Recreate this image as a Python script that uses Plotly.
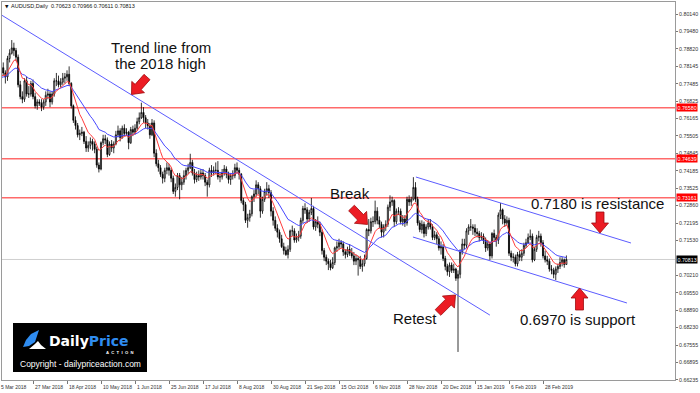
import numpy as np
import pandas as pd
import plotly.graph_objects as go

# ---------------- DATA (prices in pips, /10000) ----------------
first_open_pips = 7755
closes_pips = [
    7770, 7810, 7790, 7775, 7845, 7865, 7885, 7875, 7850, 7745,
    7700, 7690, 7760, 7710, 7710, 7750, 7700, 7665, 7680, 7675,
    7660, 7680, 7705, 7710, 7680, 7710, 7760, 7760, 7745, 7755,
    7770, 7775, 7785, 7750, 7665, 7610, 7590, 7555, 7560, 7565,
    7530, 7505, 7515, 7530, 7520, 7500, 7440, 7425, 7525, 7540,
    7535, 7480, 7520, 7505, 7520, 7555, 7570, 7545, 7580, 7560,
    7565, 7525, 7575, 7565, 7580, 7605, 7620, 7640, 7620, 7600,
    7590, 7555, 7600, 7485, 7445, 7430, 7405, 7390, 7420, 7430,
    7420, 7390, 7340, 7355, 7400, 7365, 7375, 7400, 7420, 7430,
    7450, 7410, 7385, 7400, 7395, 7410, 7400, 7375, 7365, 7420,
    7410, 7420, 7420, 7395, 7395, 7410, 7425, 7405, 7385, 7400,
    7400, 7430, 7420, 7405, 7305, 7290, 7230, 7240, 7255, 7320,
    7330, 7365, 7350, 7265, 7310, 7340, 7350, 7335, 7265, 7230,
    7200, 7185, 7160, 7130, 7115, 7100, 7120, 7190, 7190, 7155,
    7165, 7170, 7230, 7275, 7270, 7235, 7260, 7275, 7205, 7225,
    7215, 7185, 7115, 7090, 7075, 7065, 7050, 7070, 7125, 7130,
    7145, 7140, 7110, 7100, 7120, 7105, 7095, 7075, 7085, 7080,
    7055, 7065, 7085, 7195, 7190, 7225, 7225, 7265, 7230, 7215,
    7185, 7205, 7215, 7280, 7300, 7305, 7225, 7265, 7265, 7225,
    7235, 7220, 7310, 7300, 7310, 7355, 7310, 7220, 7195, 7215,
    7180, 7205, 7220, 7205, 7165, 7175, 7160, 7125, 7130, 7085,
    7055, 7035, 7060, 7040, 7045, 7010, 7025, 7110, 7140, 7135,
    7190, 7205, 7205, 7200, 7185, 7180, 7165, 7170, 7155, 7125,
    7140, 7095, 7180, 7165, 7155, 7250, 7270, 7235, 7220, 7230,
    7105, 7090, 7090, 7065, 7100, 7090, 7105, 7135, 7145, 7165,
    7170, 7080, 7120, 7165, 7170, 7145, 7095, 7080, 7075, 7045,
    7040, 7025, 7045, 7055, 7070, 7080, 7062.3, 7081.3,
]
highs_pips = [
    7790, 7825, 7830, 7800, 7855, 7880, 7915, 7905, 7885, 7860,
    7760, 7720, 7770, 7775, 7740, 7760, 7765, 7715, 7690, 7690,
    7690, 7690, 7720, 7730, 7720, 7720, 7770, 7790, 7780, 7770,
    7790, 7790, 7800, 7815, 7755, 7670, 7625, 7600, 7575, 7585,
    7570, 7550, 7530, 7545, 7540, 7530, 7510, 7450, 7530, 7555,
    7555, 7545, 7530, 7535, 7530, 7570, 7590, 7580, 7590, 7595,
    7580, 7570, 7585, 7590, 7595, 7620, 7640, 7677, 7660, 7630,
    7615, 7600, 7615, 7610, 7500, 7460, 7440, 7415, 7430, 7450,
    7445, 7430, 7400, 7370, 7410, 7410, 7395, 7420, 7430, 7445,
    7483, 7460, 7425, 7415, 7420, 7425, 7425, 7410, 7385, 7430,
    7440, 7435, 7450, 7455, 7410, 7425, 7440, 7435, 7415, 7410,
    7420, 7445, 7450, 7430, 7410, 7315, 7300, 7255, 7270, 7325,
    7345, 7382, 7375, 7360, 7320, 7350, 7375, 7365, 7345, 7280,
    7245, 7215, 7195, 7175, 7145, 7130, 7135, 7195, 7210, 7200,
    7180, 7190, 7240, 7285, 7295, 7280, 7270, 7315, 7285, 7235,
    7245, 7225, 7195, 7125, 7100, 7085, 7080, 7090, 7130, 7150,
    7160, 7155, 7150, 7120, 7130, 7140, 7125, 7110, 7100, 7095,
    7095, 7080, 7100, 7200, 7235, 7240, 7245, 7305, 7280, 7245,
    7225, 7215, 7230, 7290, 7325, 7320, 7310, 7275, 7280, 7275,
    7250, 7250, 7320, 7325, 7320, 7394, 7375, 7320, 7230, 7230,
    7225, 7215, 7235, 7235, 7215, 7190, 7185, 7170, 7150, 7140,
    7095, 7065, 7070, 7070, 7065, 7050, 7040, 7120, 7160, 7160,
    7200, 7215, 7235, 7215, 7215, 7200, 7190, 7185, 7180, 7165,
    7155, 7150, 7185, 7195, 7175, 7260, 7296, 7275, 7250, 7245,
    7240, 7115, 7105, 7100, 7110, 7115, 7120, 7145, 7160, 7180,
    7195, 7180, 7130, 7175, 7190, 7180, 7155, 7115, 7095, 7085,
    7060, 7050, 7055, 7065, 7090, 7090, 7085, 7096.6,
]
lows_pips = [
    7735, 7760, 7780, 7750, 7760, 7830, 7860, 7855, 7835, 7735,
    7690, 7675, 7680, 7700, 7695, 7700, 7690, 7655, 7650, 7665,
    7645, 7650, 7665, 7690, 7660, 7670, 7700, 7740, 7735, 7735,
    7745, 7750, 7760, 7740, 7655, 7600, 7575, 7545, 7535, 7550,
    7520, 7490, 7490, 7500, 7495, 7485, 7430, 7412, 7420, 7515,
    7520, 7470, 7475, 7490, 7485, 7515, 7545, 7530, 7540, 7550,
    7550, 7500, 7520, 7550, 7555, 7570, 7595, 7615, 7600, 7580,
    7575, 7540, 7550, 7470, 7435, 7415, 7395, 7370, 7375, 7405,
    7400, 7375, 7330, 7320, 7345, 7310, 7345, 7365, 7385, 7405,
    7425, 7400, 7370, 7375, 7380, 7385, 7385, 7360, 7320, 7355,
    7395, 7400, 7405, 7385, 7375, 7385, 7400, 7390, 7370, 7365,
    7385, 7390, 7410, 7385, 7295, 7265, 7220, 7202, 7225, 7245,
    7300, 7320, 7330, 7240, 7255, 7300, 7325, 7315, 7245, 7210,
    7190, 7165, 7145, 7125, 7100, 7095, 7085, 7110, 7170, 7145,
    7145, 7150, 7160, 7220, 7255, 7220, 7225, 7250, 7195, 7190,
    7200, 7170, 7100, 7075, 7060, 7041, 7040, 7045, 7060, 7110,
    7120, 7125, 7095, 7085, 7090, 7095, 7085, 7060, 7060, 7020,
    7045, 7035, 7055, 7080, 7170, 7180, 7205, 7215, 7215, 7200,
    7165, 7165, 7190, 7205, 7265, 7285, 7205, 7215, 7250, 7215,
    7210, 7205, 7210, 7285, 7285, 7305, 7300, 7210, 7185, 7180,
    7165, 7170, 7195, 7195, 7155, 7155, 7140, 7115, 7100, 7075,
    7040, 7020, 7015, 7030, 7030, 7000, 6730, 7010, 7100, 7120,
    7125, 7175, 7190, 7175, 7170, 7165, 7150, 7155, 7140, 7110,
    7115, 7080, 7085, 7150, 7130, 7140, 7235, 7215, 7205, 7210,
    7095, 7075, 7070, 7055, 7055, 7075, 7075, 7095, 7125, 7140,
    7155, 7070, 7075, 7110, 7150, 7130, 7085, 7070, 7060, 7035,
    7025, 7010, 7003, 7030, 7045, 7055, 7050, 7061.1,
]

date_tick_labels = ["5 Mar 2018", "27 Mar 2018", "18 Apr 2018", "10 May 2018", "1 Jun 2018",
                    "25 Jun 2018", "17 Jul 2018", "8 Aug 2018", "30 Aug 2018", "21 Sep 2018",
                    "15 Oct 2018", "6 Nov 2018", "28 Nov 2018", "20 Dec 2018", "15 Jan 2019",
                    "6 Feb 2019", "28 Feb 2019"]
date_tick_bars = [0, 16, 32, 48, 64, 80, 96, 112, 128, 144, 160, 176, 192, 208, 224, 240, 256]
price_ticks = [0.80140, 0.79480, 0.78820, 0.78145, 0.77485, 0.76825, 0.76165, 0.75505,
               0.74845, 0.74185, 0.73525, 0.72860, 0.72195, 0.71530, 0.70210,
               0.69550, 0.68890, 0.68230, 0.67555, 0.66895, 0.66235]
levels = [0.76580, 0.74639, 0.73161]
last_price = 0.70813
header_text = "AUDUSD,Daily  0.70623 0.70966 0.70611 0.70813"
trend_main_bars, trend_main_prices = [0, 231], [0.8016, 0.6870]
trend_res_bars, trend_res_prices = [196.2, 297.4], [0.73947, 0.71439]
trend_sup_bars, trend_sup_prices = [194.8, 295.5], [0.71667, 0.69160]
ema_fast_span, ema_slow_span = 8, 21

# ---------------- derived series ----------------
closes = np.array(closes_pips, dtype=float) / 10000
highs = np.array(highs_pips, dtype=float) / 10000
lows = np.array(lows_pips, dtype=float) / 10000
opens = np.concatenate([[first_open_pips], closes_pips[:-1]]).astype(float) / 10000
bars = np.arange(len(closes))
ema_fast = pd.Series(closes).ewm(span=ema_fast_span, adjust=False).mean()
ema_slow = pd.Series(closes).ewm(span=ema_slow_span, adjust=False).mean()

# ---------------- layout geometry ----------------
W, H = 700, 393
ML, MR, MT, MB = 2, 25, 2, 13
PW, PH = W - ML - MR, H - MT - MB
BAR_PX = 2.125
X_RANGE = [(ML + 1) / BAR_PX, (W - MR + 1) / BAR_PX]
Y_RANGE = [0.66234, 0.80596]


def pxx(px):
    return (px - ML) / PW


def pyy(py):
    return 1 - (py - MT) / PH


FONT = "Liberation Sans, Arial, sans-serif"

fig = go.Figure()
fig.add_trace(go.Candlestick(
    x=bars, open=opens, high=highs, low=lows, close=closes,
    increasing=dict(line=dict(color="#000000", width=0.8), fillcolor="#ffffff"),
    decreasing=dict(line=dict(color="#000000", width=0.8), fillcolor="#000000"),
    showlegend=False, hoverinfo="skip"))
fig.add_trace(go.Scatter(x=bars, y=ema_slow, mode="lines",
                         line=dict(color="#4646ff", width=1), showlegend=False, hoverinfo="skip"))
fig.add_trace(go.Scatter(x=bars, y=ema_fast, mode="lines",
                         line=dict(color="#ff3c3c", width=1), showlegend=False, hoverinfo="skip"))

shapes = []
# current price line
shapes.append(dict(type="line", xref="paper", x0=0, x1=1, yref="y", y0=last_price, y1=last_price,
                   line=dict(color="#cfcfcf", width=1), layer="below"))
for lv in levels:
    shapes.append(dict(type="line", xref="paper", x0=0, x1=1, yref="y", y0=lv, y1=lv,
                       line=dict(color="#ff6a6a", width=1.5), layer="below"))
for bx, pr in [(trend_main_bars, trend_main_prices), (trend_res_bars, trend_res_prices),
               (trend_sup_bars, trend_sup_prices)]:
    shapes.append(dict(type="line", xref="x", yref="y", x0=bx[0], x1=bx[1], y0=pr[0], y1=pr[1],
                       line=dict(color="#5c5cff", width=1)))


def arrow_path(tail, tip, sw=4.0, hw=8.5, hl=10.0):
    t = np.array(tail, float)
    p = np.array(tip, float)
    u = (p - t) / np.linalg.norm(p - t)
    n = np.array([-u[1], u[0]])
    b = p - u * hl
    pts = [t + n * sw, b + n * sw, b + n * hw, p, b - n * hw, b - n * sw, t - n * sw]
    return "M " + " L ".join(f"{pxx(q[0]):.5f},{pyy(q[1]):.5f}" for q in pts) + " Z"


arrows = [((147, 77), (131.5, 94.5)), ((351.5, 208), (367.5, 224.5)),
          ((438, 312.5), (455.5, 295)), ((600, 212), (600, 233)), ((579.5, 310), (579.5, 288))]
for tail, tip in arrows:
    shapes.append(dict(type="path", xref="paper", yref="paper", path=arrow_path(tail, tip),
                       fillcolor="#ec1c24", line=dict(color="#9e0b0f", width=0.8)))

# logo box
shapes.append(dict(type="rect", xref="paper", yref="paper", x0=pxx(13), x1=pxx(147),
                   y0=pyy(372), y1=pyy(323), fillcolor="#000000", line=dict(width=0)))
blue_pts = [(23, 347), (26, 340), (31, 334), (39, 330), (37, 336), (35, 342), (29, 346)]
white_pts = [(29, 349), (35, 344), (38, 341), (41, 345), (46, 349)]
for pts, col in [(blue_pts, "#2f8cf0"), (white_pts, "#ffffff")]:
    shapes.append(dict(type="path", xref="paper", yref="paper",
                       path="M " + " L ".join(f"{pxx(a):.5f},{pyy(b):.5f}" for a, b in pts) + " Z",
                       fillcolor=col, line=dict(width=0)))

ann = []
# date labels
for b, lab in zip(date_tick_bars, date_tick_labels):
    xp = (b - X_RANGE[0]) / (X_RANGE[1] - X_RANGE[0])
    ann.append(dict(text=lab, xref="paper", yref="paper", x=xp, y=0, xanchor="left", yanchor="top",
                    xshift=0, yshift=-2, showarrow=False, font=dict(family=FONT, size=5, color="#333")))
# level boxes
for lv in levels:
    ann.append(dict(text=f"{lv:.5f}", xref="paper", yref="y", x=1, y=lv, xanchor="left", yanchor="middle",
                    xshift=1, showarrow=False, bgcolor="#ff0000", borderpad=0.5,
                    font=dict(family=FONT, size=5.3, color="#ffffff")))
ann.append(dict(text=f"{last_price:.5f}", xref="paper", yref="y", x=1, y=last_price, xanchor="left",
                yanchor="middle", xshift=1, showarrow=False, bgcolor="#000000", borderpad=0.5,
                font=dict(family=FONT, size=5.3, color="#ffffff")))
# header
ann.append(dict(text="\u25BC", xref="paper", yref="paper", x=pxx(3), y=pyy(6.5), xanchor="left",
                yanchor="middle", showarrow=False, font=dict(family="DejaVu Sans", size=4.5, color="#111")))
ann.append(dict(text=header_text, xref="paper", yref="paper", x=pxx(9), y=pyy(6.5), xanchor="left",
                yanchor="middle", showarrow=False, font=dict(family=FONT, size=5.5, color="#111")))


def txt(s, x, y, xanchor="center", size=15):
    ann.append(dict(text=s, xref="paper", yref="paper", x=pxx(x), y=pyy(y), xanchor=xanchor,
                    yanchor="middle", showarrow=False, font=dict(family=FONT, size=size, color="#111")))


txt("Trend line from", 160.5, 47)
txt("the 2018 high", 160, 64)
txt("Break", 349.5, 193)
txt("Retest", 415, 318)
txt("0.7180 is resistance", 529, 203, "left")
txt("0.6970 is support", 518, 319, "left")

# logo texts
ann.append(dict(text="<b><span style='color:#ffffff'>Daily</span><span style='color:#2f8cf0'>Price</span></b>",
                xref="paper", yref="paper", x=pxx(47), y=pyy(340.5), xanchor="left", yanchor="middle",
                showarrow=False, font=dict(family="DejaVu Sans", size=14, color="#ffffff")))
ann.append(dict(text="<b>A  C  T  I  O  N</b>", xref="paper", yref="paper", x=pxx(136), y=pyy(352.5),
                xanchor="right", yanchor="middle", showarrow=False,
                font=dict(family=FONT, size=4.2, color="#ffffff")))
ann.append(dict(text="Copyright - dailypriceaction.com", xref="paper", yref="paper", x=pxx(80), y=pyy(363.5),
                xanchor="center", yanchor="middle", showarrow=False,
                font=dict(family=FONT, size=8.5, color="#ffffff")))

fig.update_layout(
    width=W, height=H, margin=dict(l=ML, r=MR, t=MT, b=MB, pad=0, autoexpand=False),
    paper_bgcolor="#ffffff", plot_bgcolor="#ffffff", showlegend=False,
    shapes=shapes, annotations=ann,
    xaxis=dict(range=X_RANGE, showgrid=False, zeroline=False, showline=True, mirror=True,
               linecolor="#9a9a9a", linewidth=1, ticks="outside", tickvals=date_tick_bars,
               ticklen=3, tickcolor="#777", showticklabels=False, rangeslider=dict(visible=False),
               fixedrange=True),
    yaxis=dict(range=Y_RANGE, side="right", showgrid=False, zeroline=False, showline=True, mirror=True,
               linecolor="#9a9a9a", linewidth=1, ticks="outside", ticklen=2, tickcolor="#777",
               tickvals=price_ticks, ticktext=[f"{v:.5f}" for v in price_ticks],
               tickfont=dict(family=FONT, size=5.3, color="#333"), automargin=False, fixedrange=True),
)

fig.write_html("out.html")
